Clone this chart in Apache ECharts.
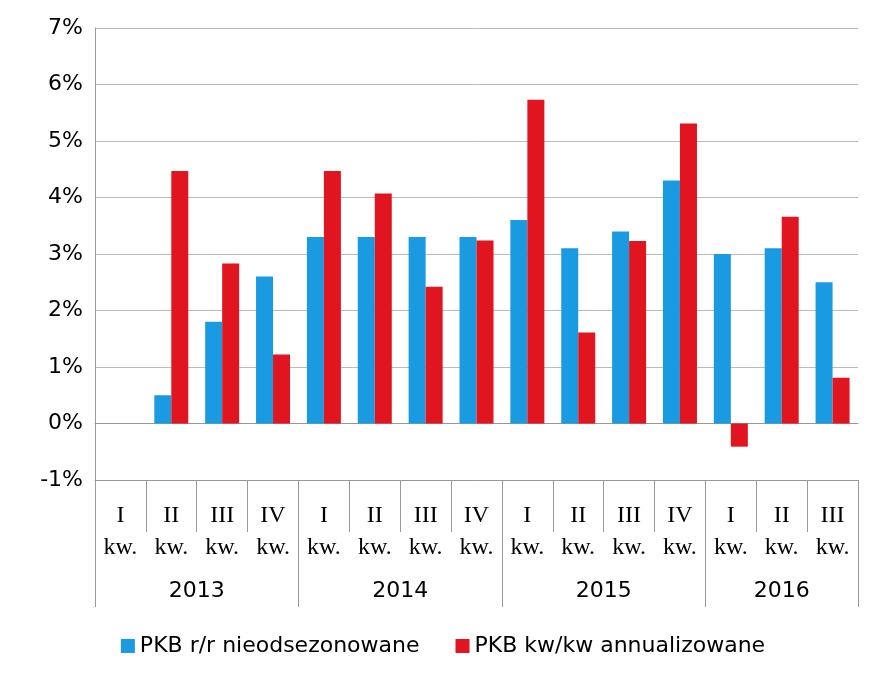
<!DOCTYPE html>
<html><head><meta charset="utf-8">
<script src="https://cdn.jsdelivr.net/npm/echarts@6/dist/echarts.min.js"></script>
<style>html,body{margin:0;background:#fff}#c{width:886px;height:684px}</style>
</head><body><div id="c"></div>
<script>
const quarters = ["I","II","III","IV","I","II","III","IV","I","II","III","IV","I","II","III"];
const years = ["2013","2014","2015","2016"];
const yearPositions = [2,6,10,13.5];
const yearBounds = [0,4,8,12,15];
const quarterBounds = [1,2,3,5,6,7,9,10,11,13,14];
const yoy = [null,0.5,1.8,2.6,3.3,3.3,3.3,3.3,3.6,3.1,3.4,4.3,3.0,3.1,2.5];
const qoq = [null,4.47,2.83,1.22,4.47,4.07,2.42,3.24,5.73,1.61,3.23,5.31,-0.41,3.66,0.81];
const font = "DejaVu Sans";
const chart = echarts.init(document.getElementById('c'));
chart.setOption({
  animation:false,
  textStyle:{fontFamily:font},
  grid:{left:95,right:28,top:28,bottom:204},
  legend:{bottom:22,left:'center',itemWidth:14,itemHeight:14,itemGap:36,icon:'rect',
    textStyle:{fontSize:22,color:'#000',fontFamily:font},
    data:['PKB r/r nieodsezonowane','PKB kw/kw annualizowane']},
  xAxis:[
    {type:'category',data:quarters,position:'bottom',axisLine:{onZero:false,lineStyle:{color:'#999'}},
     axisTick:{show:false},
     axisLabel:{margin:20,fontSize:24,color:'#000',lineHeight:32,fontFamily:'Liberation Serif',formatter:v=>v+'\nkw.'}},
    {type:'value',min:0,max:15,position:'bottom',axisLine:{onZero:false,show:false},splitLine:{show:false},
     axisTick:{show:true,length:52,customValues:quarterBounds,lineStyle:{color:'#999'}},
     axisLabel:{show:false}},
    {type:'value',min:0,max:15,position:'bottom',axisLine:{onZero:false,show:false},splitLine:{show:false},
     axisTick:{show:true,length:127,customValues:yearBounds,lineStyle:{color:'#999'}},
     axisLabel:{margin:100,fontSize:22,color:'#000',customValues:yearPositions,
       formatter:v=>years[yearPositions.indexOf(v)]}},
    {type:'category',data:quarters,axisLine:{onZero:true,lineStyle:{color:'#999'}},
     axisTick:{length:4,interval:0,lineStyle:{color:'#999'}},axisLabel:{show:false}}
  ],
  yAxis:{type:'value',min:-1,max:7,interval:1,
    axisLine:{show:true,lineStyle:{color:'#999'}},axisTick:{show:false},
    splitLine:{lineStyle:{color:'#bbb'}},
    axisLabel:{fontSize:22,color:'#000',margin:12,formatter:v=>v+'%'}},
  series:[
    {name:'PKB r/r nieodsezonowane',type:'bar',data:yoy,itemStyle:{color:'#1A9AE0'},barWidth:17,barGap:'0%'},
    {name:'PKB kw/kw annualizowane',type:'bar',data:qoq,itemStyle:{color:'#E0151F'},barWidth:17}
  ]
});
</script></body></html>
